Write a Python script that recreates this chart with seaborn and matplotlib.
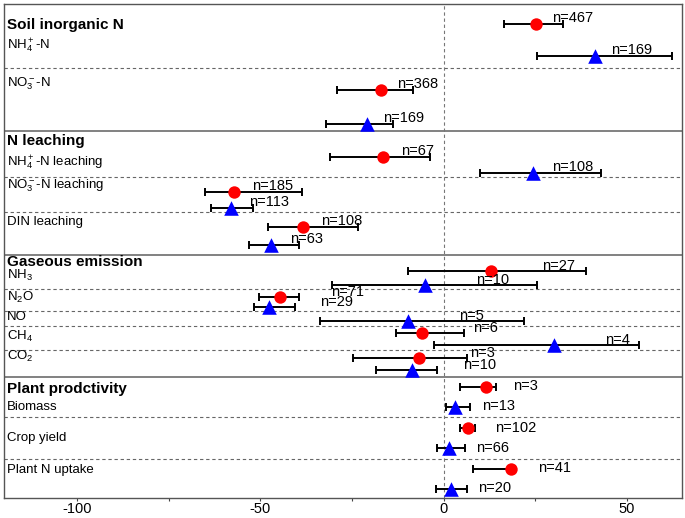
import numpy as np
import pandas as pd
import matplotlib
matplotlib.use("Agg")
import matplotlib.pyplot as plt
import matplotlib.transforms as mtransforms
import seaborn as sns

# indicators, top to bottom
indicators = [r"NH$_4^+$-N", r"NO$_3^-$-N", r"NH$_4^+$-N leaching", r"NO$_3^-$-N leaching",
              "DIN leaching", r"NH$_3$", r"N$_2$O", "NO", r"CH$_4$", r"CO$_2$",
              "Biomass", "Crop yield", "Plant N uptake"]
section_titles = ["Soil inorganic N", "N leaching", "Gaseous emission", "Plant prodctivity"]
section_of = [0, 0, 1, 1, 1, 2, 2, 2, 2, 2, 3, 3, 3]

# red circles (NaN = not reported)
red_mean = [25.1, -17.2, -16.6, -57.2, -38.4, 12.8, -44.7, np.nan, -6.0, -6.8, 11.5, 6.6, 18.3]
red_lo = [16.6, -29.2, -31.1, -65.1, -47.9, -9.8, -50.4, np.nan, -13.1, -24.8, 4.6, 4.4, 8.1]
red_hi = [32.5, -8.4, -3.8, -38.5, -23.4, 38.7, -39.3, np.nan, 5.5, 6.5, 14.4, 8.5, 19.4]
red_n = [467, 368, 67, 185, 108, 27, 71, None, 6, 3, 3, 102, 41]

# blue triangles
blue_mean = [41.2, -21.0, 24.5, -58.0, -47.0, -5.2, -47.7, -9.8, 30.0, -8.7, 3.0, 1.4, 1.9]
blue_lo = [25.6, -32.2, 9.8, -63.4, -53.0, -30.5, -51.8, -33.8, -2.7, -18.3, 0.7, -1.7, -2.0]
blue_hi = [62.4, -13.9, 43.0, -52.0, -39.5, 25.4, -40.4, 21.8, 53.2, -1.9, 7.1, 5.7, 6.4]
blue_n = [169, 169, 108, 113, 63, 10, 29, 5, 4, 10, 13, 66, 20]

# layout (vertical rows, px from top of the axes area)
red_row = [20, 86, 153, 188, 223, 267, 293, 0, 329, 354, 383, 424, 465]
blue_row = [52, 120, 169, 204, 241, 281, 303, 317, 341, 366, 403, 444, 485]
label_row = [42, 80, 159, 182, 219, 272, 294, 313, 333, 353, 403, 434, 466]
title_row = [22, 138, 258, 385]
dashed_rows = [64, 173, 208, 285, 307, 322, 346, 413, 455]
solid_rows = [127, 251, 373]
n_dx = [4.5, 5, 14, 7.5]
n_dy = [4, 4, 3, 0]

sns.set_style("white")
plt.rcParams["font.family"] = ["Liberation Sans", "DejaVu Sans"]
plt.rcParams["mathtext.fontset"] = "custom"
plt.rcParams["mathtext.rm"] = "Liberation Sans"
plt.rcParams["mathtext.it"] = "Liberation Sans:italic"
plt.rcParams["mathtext.bf"] = "Liberation Sans:bold"
plt.rcParams["mathtext.default"] = "regular"
plt.rcParams["axes.unicode_minus"] = False
plt.rcParams["text.color"] = "black"
plt.rcParams["xtick.color"] = "#444444"
plt.rcParams["xtick.labelcolor"] = "black"

fig = plt.figure(figsize=(6.85, 5.18), dpi=100)
ax = fig.add_axes([3.5 / 685, 20 / 518, 678.5 / 685, 494.5 / 518])

rows = []
for i in range(len(indicators)):
    if not np.isnan(red_mean[i]):
        rows.append(dict(x=red_mean[i], y=red_row[i], grp="red"))
    rows.append(dict(x=blue_mean[i], y=blue_row[i], grp="blue"))
df = pd.DataFrame(rows)

for mean, lo, hi, yy in [(red_mean, red_lo, red_hi, red_row), (blue_mean, blue_lo, blue_hi, blue_row)]:
    m = np.array(mean)
    ok = ~np.isnan(m)
    err = [m[ok] - np.array(lo)[ok], np.array(hi)[ok] - m[ok]]
    ax.errorbar(m[ok], np.array(yy)[ok], xerr=err, fmt="none", ecolor="black",
                elinewidth=1.4, capsize=3.2, capthick=1.4, zorder=2)

sns.scatterplot(data=df[df.grp == "red"], x="x", y="y", ax=ax, color="#ff0000",
                marker="o", s=80, linewidth=0, zorder=3, legend=False)
sns.scatterplot(data=df[df.grp == "blue"], x="x", y="y", ax=ax, color="#0000ff",
                marker="^", s=110, linewidth=0, zorder=3, legend=False)

# n labels
for i in range(len(indicators)):
    s = section_of[i]
    if red_n[i] is not None:
        ax.annotate(f"n={red_n[i]}", xy=(red_mean[i] + n_dx[s], red_row[i]),
                    xytext=(0, n_dy[s]), textcoords="offset points",
                    ha="left", va="center", fontsize=10.5, zorder=4)
    ax.annotate(f"n={blue_n[i]}", xy=(blue_mean[i] + n_dx[s], blue_row[i]),
                xytext=(0, n_dy[s]), textcoords="offset points",
                ha="left", va="center", fontsize=10.5, zorder=4)

trans = mtransforms.blended_transform_factory(ax.transAxes, ax.transData)
for t, yy in zip(section_titles, title_row):
    ax.text(0.005, yy, t, transform=trans, fontsize=11, fontweight="bold", va="center", ha="left")
for lab, yy in zip(indicators, label_row):
    ax.text(0.005, yy, lab, transform=trans, fontsize=9.5, va="center", ha="left")

for yy in dashed_rows:
    ax.axhline(yy, color="#666666", lw=0.8, ls=(0, (3, 2.5)), zorder=1)
for yy in solid_rows:
    ax.axhline(yy, color="#777777", lw=1.3, zorder=1)
ax.axvline(0, color="#777777", lw=0.8, ls=(0, (3, 2.5)), zorder=1)

ax.set_xlim(-120, 65)
ax.set_ylim(494.5, 0)
ax.set_xticks([-100, -50, 0, 50])
ax.set_xticks([-75, -25, 25], minor=True)
ax.set_yticks([])
ax.set_xlabel("")
ax.set_ylabel("")
ax.tick_params(axis="x", which="major", direction="out", length=2.5, width=0.8,
               labelsize=10.5, pad=0.5, bottom=True)
ax.tick_params(axis="x", which="minor", direction="out", length=2, width=0.8,
               bottom=True)
for sp in ax.spines.values():
    sp.set_color("#555555")
    sp.set_linewidth(1.0)

fig.savefig("out.png", dpi=100)
